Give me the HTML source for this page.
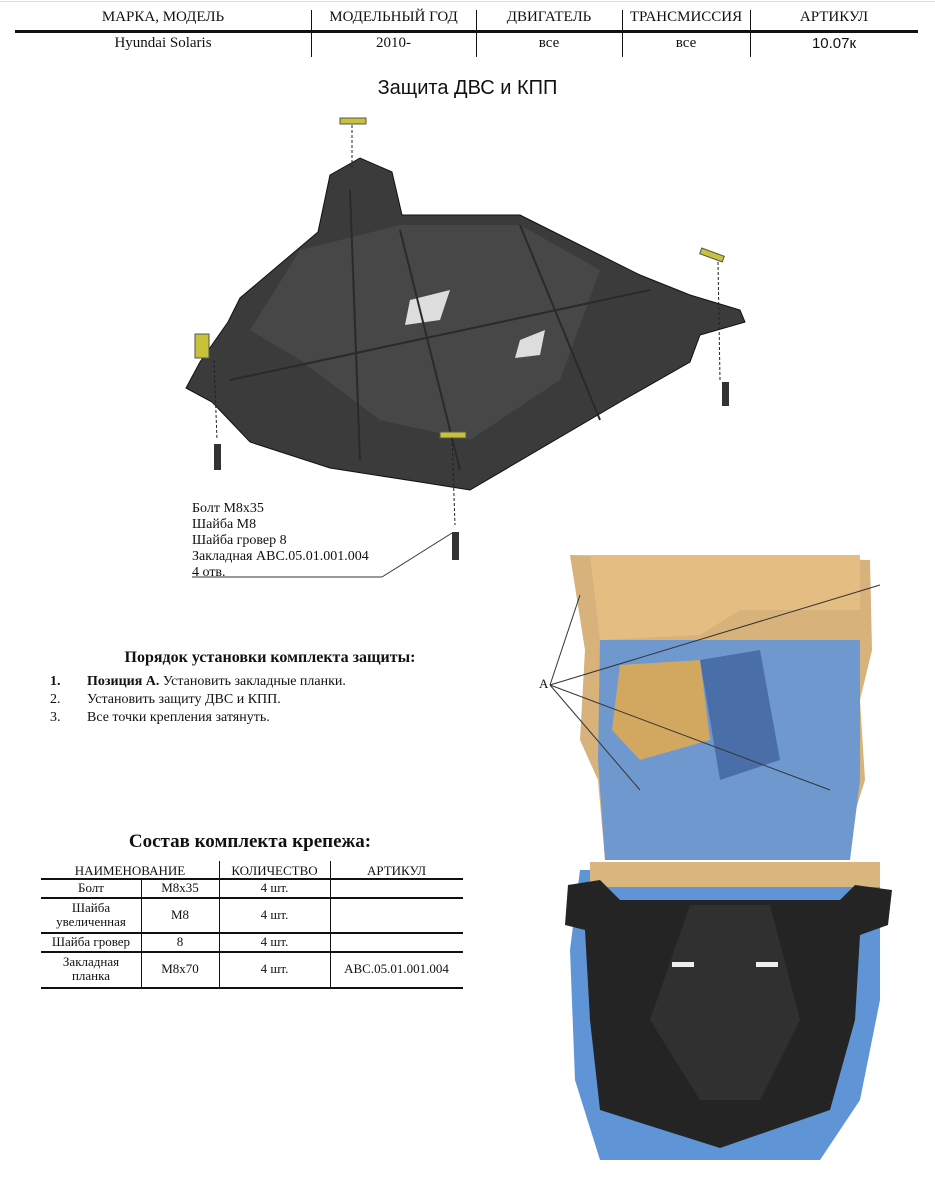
<!DOCTYPE html>
<html><head><meta charset="utf-8"><style>
body{margin:0;width:935px;height:1200px;background:#fff;position:relative;overflow:hidden;font-family:"Liberation Serif",serif;color:#111}
.a{position:absolute;white-space:nowrap}
.c{text-align:center}
</style></head><body>
<div class="a" style="left:0;top:1px;width:935px;height:1px;background:#ddd"></div>
<div class="a c" style="left:15px;top:9px;width:296px;font-size:15px">МАРКА, МОДЕЛЬ</div>
<div class="a c" style="left:311px;top:9px;width:165px;font-size:15px">МОДЕЛЬНЫЙ ГОД</div>
<div class="a c" style="left:476px;top:9px;width:146px;font-size:15px">ДВИГАТЕЛЬ</div>
<div class="a c" style="left:622px;top:9px;width:128px;font-size:15px">ТРАНСМИССИЯ</div>
<div class="a c" style="left:750px;top:9px;width:168px;font-size:15px">АРТИКУЛ</div>
<div class="a" style="left:15px;top:30px;width:903px;height:3px;background:#111"></div>
<div class="a c" style="left:15px;top:35px;width:296px;font-size:15px">Hyundai Solaris</div>
<div class="a c" style="left:311px;top:35px;width:165px;font-size:15px">2010-</div>
<div class="a c" style="left:476px;top:35px;width:146px;font-size:15px">все</div>
<div class="a c" style="left:622px;top:35px;width:128px;font-size:15px">все</div>
<div class="a c" style="left:750px;top:35px;width:168px;font-size:15px;font-family:'Liberation Sans',sans-serif">10.07к</div>
<div class="a" style="left:311px;top:10px;width:1px;height:47px;background:#111"></div>
<div class="a" style="left:476px;top:10px;width:1px;height:47px;background:#111"></div>
<div class="a" style="left:622px;top:10px;width:1px;height:47px;background:#111"></div>
<div class="a" style="left:750px;top:10px;width:1px;height:47px;background:#111"></div>

<div class="a c" style="left:0;top:77px;width:935px;font-size:20px;font-family:'Liberation Sans',sans-serif">Защита ДВС и КПП</div>

<svg class="a" style="left:0;top:0" width="935" height="1200">
<polygon points="330,175 360,158 392,172 402,215 520,215 640,275 690,295 740,310 745,322 700,335 690,362 620,402 470,490 420,482 330,468 250,442 212,402 186,388 200,362 228,322 240,298 318,232" fill="#3b3b3b" stroke="#111"/>
<polygon points="300,250 400,225 520,225 600,270 560,380 470,440 380,420 300,360 250,330" fill="#474747"/>
<polygon points="410,300 450,290 440,320 405,325" fill="#ddd"/>
<polygon points="520,340 545,330 540,355 515,358" fill="#ddd"/>
<path d="M350,190 L360,460 M520,225 L600,420 M400,230 L460,470 M230,380 L650,290" stroke="#2a2a2a" stroke-width="2" fill="none"/>
<g fill="#c8c13a" stroke="#555"><rect x="340" y="118" width="26" height="6"/><rect x="700" y="252" width="24" height="6" transform="rotate(20 712 255)"/><rect x="195" y="334" width="14" height="24"/><rect x="440" y="432" width="26" height="6"/></g>
<g stroke="#222" stroke-dasharray="3,2"><line x1="352" y1="125" x2="352" y2="170"/><line x1="718" y1="262" x2="720" y2="380"/><line x1="214" y1="360" x2="217" y2="440"/><line x1="452" y1="438" x2="455" y2="525"/></g>
<g fill="#333"><rect x="214" y="444" width="7" height="26"/><rect x="722" y="382" width="7" height="24"/><rect x="452" y="532" width="7" height="28"/></g>
<line x1="192" y1="577" x2="382" y2="577" stroke="#333"/><line x1="382" y1="577" x2="452" y2="533" stroke="#333"/>

<polygon points="570,555 870,560 872,650 860,700 865,780 840,860 605,860 598,780 580,740 585,650" fill="#d7b27a"/>
<polygon points="600,640 860,640 860,780 850,860 605,860 598,760" fill="#6f98cf"/>
<polygon points="620,665 700,660 710,740 640,760 612,730" fill="#d2a860"/>
<polygon points="700,660 760,650 780,760 720,780" fill="#4a6fa8"/>
<polygon points="590,555 860,555 860,610 740,610 700,635 600,640" fill="#e3bd82"/>
<g stroke="#333"><line x1="550" y1="685" x2="580" y2="595"/><line x1="550" y1="685" x2="880" y2="585"/><line x1="550" y1="685" x2="640" y2="790"/><line x1="550" y1="685" x2="830" y2="790"/></g>

<polygon points="580,870 880,870 880,1000 860,1100 820,1160 600,1160 575,1080 570,950" fill="#5f95d6"/>
<rect x="590" y="862" width="290" height="25" fill="#d9b67e"/>
<polygon points="568,885 600,880 620,900 840,900 855,885 892,890 888,925 860,935 855,1020 830,1110 720,1148 600,1110 590,1020 585,930 565,925" fill="#242424"/>
<polygon points="690,905 770,905 800,1020 760,1100 700,1100 650,1020" fill="#303030"/>
<rect x="672" y="962" width="22" height="5" fill="#eee"/><rect x="756" y="962" width="22" height="5" fill="#eee"/>
</svg>

<div class="a" style="left:192px;top:501px;font-size:14px;line-height:16px">Болт М8х35<br>Шайба М8<br>Шайба гровер 8<br>Закладная АВС.05.01.001.004<br>4 отв.</div>
<div class="a c" style="left:30px;top:649px;width:480px;font-size:16px;font-weight:bold">Порядок установки комплекта защиты:</div>
<div class="a" style="left:50px;top:673px;font-size:14px;line-height:18px"><b>1.</b><br>2.<br>3.</div>
<div class="a" style="left:87px;top:673px;font-size:14px;line-height:18px"><b>Позиция А.</b> Установить закладные планки.<br>Установить защиту ДВС и КПП.<br>Все точки крепления затянуть.</div>
<div class="a" style="left:539px;top:676px;font-size:13px">А</div>

<div class="a c" style="left:30px;top:831px;width:440px;font-size:19px;font-weight:bold">Состав комплекта крепежа:</div>
<div class="a c" style="left:41px;top:863px;width:178px;font-size:13px">НАИМЕНОВАНИЕ</div>
<div class="a c" style="left:219px;top:863px;width:111px;font-size:13px">КОЛИЧЕСТВО</div>
<div class="a c" style="left:330px;top:863px;width:133px;font-size:13px">АРТИКУЛ</div>
<div class="a" style="left:219px;top:861px;width:1px;height:127px;background:#111"></div>
<div class="a" style="left:330px;top:861px;width:1px;height:127px;background:#111"></div>
<div class="a" style="left:141px;top:879px;width:1px;height:109px;background:#111"></div>
<div class="a" style="left:41px;top:878px;width:422px;height:2px;background:#111"></div>
<div class="a" style="left:41px;top:897px;width:422px;height:2px;background:#111"></div>
<div class="a" style="left:41px;top:932px;width:422px;height:2px;background:#111"></div>
<div class="a" style="left:41px;top:951px;width:422px;height:2px;background:#111"></div>
<div class="a" style="left:41px;top:987px;width:422px;height:2px;background:#111"></div>
<div style="font-size:13px;line-height:14px">
<div class="a c" style="left:41px;top:881px;width:100px">Болт</div><div class="a c" style="left:141px;top:881px;width:78px">М8х35</div><div class="a c" style="left:219px;top:881px;width:111px">4 шт.</div>
<div class="a c" style="left:41px;top:901px;width:100px">Шайба<br>увеличенная</div><div class="a c" style="left:141px;top:908px;width:78px">М8</div><div class="a c" style="left:219px;top:908px;width:111px">4 шт.</div>
<div class="a c" style="left:41px;top:935px;width:100px">Шайба гровер</div><div class="a c" style="left:141px;top:935px;width:78px">8</div><div class="a c" style="left:219px;top:935px;width:111px">4 шт.</div>
<div class="a c" style="left:41px;top:955px;width:100px">Закладная<br>планка</div><div class="a c" style="left:141px;top:962px;width:78px">М8х70</div><div class="a c" style="left:219px;top:962px;width:111px">4 шт.</div><div class="a c" style="left:330px;top:962px;width:133px">АВС.05.01.001.004</div>
</div>
</body></html>
